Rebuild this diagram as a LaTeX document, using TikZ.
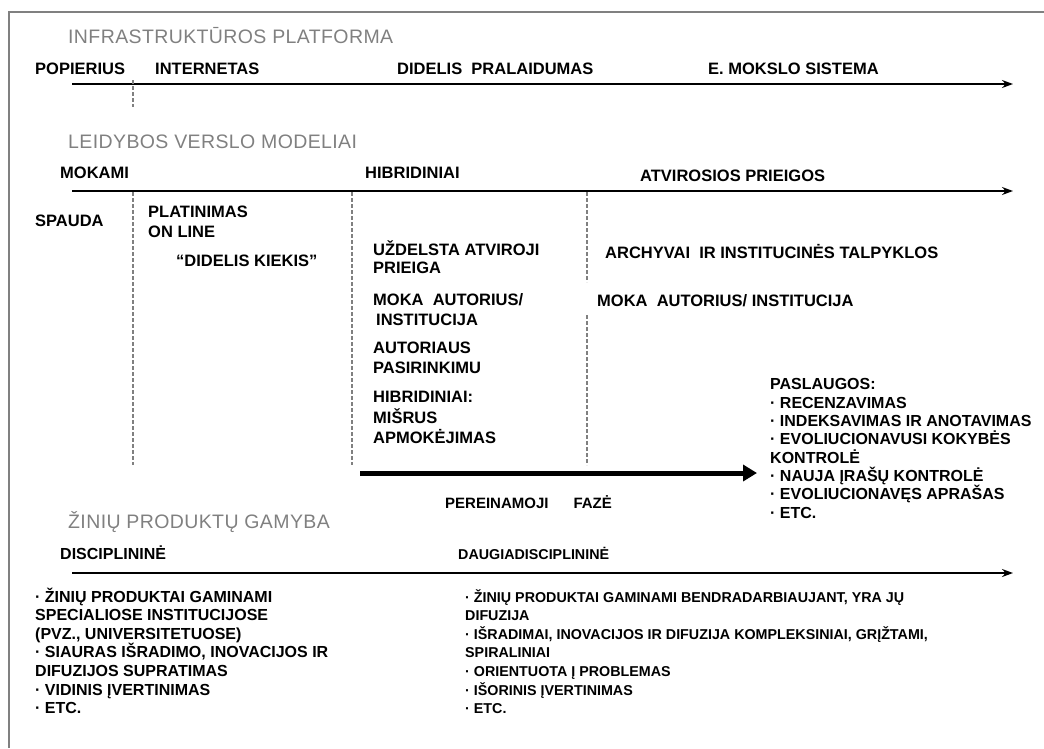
\documentclass[tikz,border=0pt]{standalone}
\usepackage{fontspec}
\setmainfont{Liberation Sans}
\newfontfamily\headfont[LetterSpace=2]{Liberation Sans}
\usetikzlibrary{arrows.meta}
\tikzset{heading/.style={ % Gray section titles
            anchor=base west, inner sep=0pt,
            text=gray, font=\headfont\fontsize{19.5}{22}\selectfont},
        lbl/.style={ % Bold labels of the upper part (base = last line)
            anchor=base west, inner sep=0pt, align=left,
            font=\bfseries\fontsize{16.5}{20.5}\selectfont},
        svc/.style={ % List of services
            lbl, font=\bfseries\fontsize{16}{18.3}\selectfont},
        lowleft/.style={ % Bold labels of the lower part, left
            lbl, font=\bfseries\fontsize{16}{18.6}\selectfont},
        lowright/.style={ % Bold labels of the lower part, right
            lbl, font=\bfseries\fontsize{14.3}{18.6}\selectfont},
        timeline/.style={ % Time axes
            draw, line width=1.5pt, -{Stealth[length=11pt,width=8pt]}},
        divider/.style={ % Dashed separators
            draw=gray, line width=1.2pt, dash pattern=on 4pt off 2pt},
        frame/.style={draw=gray, line width=1.2pt}
        }

\begin{document}
\begin{tikzpicture}[x=1pt,y=-1pt]
    \useasboundingbox (0,0) rectangle (1044,748);
    \draw[frame] (9,748) -- (9,12) -- (1044,12);

    % infrastructure
    \node[heading] (infra) at (68,43) {INFRASTRUKTŪROS PLATFORMA};
    \node[lbl] (popierius) at (35,74) {POPIERIUS};
    \node[lbl] (internetas) at (155,74) {INTERNETAS};
    \node[lbl] (pralaidumas) at (397,74) {DIDELIS~~PRALAIDUMAS};
    \node[lbl] (emokslas) at (708,74) {E. MOKSLO SISTEMA};
    \coordinate (t1s) at (72,84);
    \coordinate (t1e) at (1013,84);
    \draw[timeline] (t1s) -- (t1e);
    \draw[divider] (133,80) -- (133,107);

    % business models
    \node[heading] (leidyba) at (68,148) {LEIDYBOS VERSLO MODELIAI};
    \node[lbl] (mokami) at (60,178) {MOKAMI};
    \node[lbl] (hibrid) at (365,178) {HIBRIDINIAI};
    \node[lbl] (atviros) at (640,181) {ATVIROSIOS PRIEIGOS};
    \coordinate (t2s) at (72,191);
    \coordinate (t2e) at (1013,191);
    \draw[timeline] (t2s) -- (t2e);
    \draw[divider] (133,192) -- (133,465);
    \draw[divider] (352,192) -- (352,465);
    \draw[divider] (587,192) -- (587,282);
    \draw[divider] (587,315) -- (587,465);

    \node[lbl] (spauda) at (35,226) {SPAUDA};
    \node[lbl] (platinimas) at (148,237.5) {PLATINIMAS\\ON LINE};
    \node[lbl] (kiekis) at (176,266) {“DIDELIS KIEKIS”};
    \node[lbl] (uzdelsta) at (373,273) {UŽDELSTA ATVIROJI\\[-2.5pt]PRIEIGA};
    \node[lbl] (mokaA) at (373,325.5) {MOKA~~AUTORIUS/\\\hspace{3pt}INSTITUCIJA};
    \node[lbl] (pasirinkimas) at (373,373.5) {AUTORIAUS\\PASIRINKIMU};
    \node[lbl] (misrus) at (373,443.5) {HIBRIDINIAI:\\MIŠRUS\\APMOKĖJIMAS};
    \node[lbl] (archyvai) at (605,258) {ARCHYVAI~~IR INSTITUCINĖS TALPYKLOS};
    \node[lbl] (mokaB) at (597,306) {MOKA~~AUTORIUS/ INSTITUCIJA};
    \node[svc] (paslaugos) at (770,518) {PASLAUGOS:\\· RECENZAVIMAS\\· INDEKSAVIMAS IR ANOTAVIMAS\\· EVOLIUCIONAVUSI KOKYBĖS\\KONTROLĖ\\· NAUJA ĮRAŠŲ KONTROLĖ\\· EVOLIUCIONAVĘS APRAŠAS\\· ETC.};

    % transition
    \coordinate (f0) at (360,473);
    \coordinate (f1) at (757,473);
    \draw[line width=5pt, -{Triangle[length=14pt,width=16pt]}] (f0) -- (f1);
    \node[lbl, font=\bfseries\fontsize{15}{18}\selectfont] (faze) at (445,508) {PEREINAMOJI\hspace{25pt}FAZĖ};

    % knowledge production
    \node[heading] (zinios) at (68,528) {ŽINIŲ PRODUKTŲ GAMYBA};
    \node[lowleft] (disc) at (60,559) {DISCIPLININĖ};
    \node[lowright] (daugia) at (458,559) {DAUGIADISCIPLININĖ};
    \coordinate (t3s) at (72,573);
    \coordinate (t3e) at (1013,573);
    \draw[timeline] (t3s) -- (t3e);
    \node[lowleft] (discList) at (35,713.6) {· ŽINIŲ PRODUKTAI GAMINAMI\\SPECIALIOSE INSTITUCIJOSE\\(PVZ., UNIVERSITETUOSE)\\· SIAURAS IŠRADIMO, INOVACIJOS IR\\DIFUZIJOS SUPRATIMAS\\· VIDINIS ĮVERTINIMAS\\· ETC.};
    \node[lowright] (daugiaList) at (465,713.6) {· ŽINIŲ PRODUKTAI GAMINAMI BENDRADARBIAUJANT, YRA JŲ\\DIFUZIJA\\· IŠRADIMAI, INOVACIJOS IR DIFUZIJA KOMPLEKSINIAI, GRĮŽTAMI,\\SPIRALINIAI\\· ORIENTUOTA Į PROBLEMAS\\· IŠORINIS ĮVERTINIMAS\\· ETC.};
\end{tikzpicture}
\end{document}
